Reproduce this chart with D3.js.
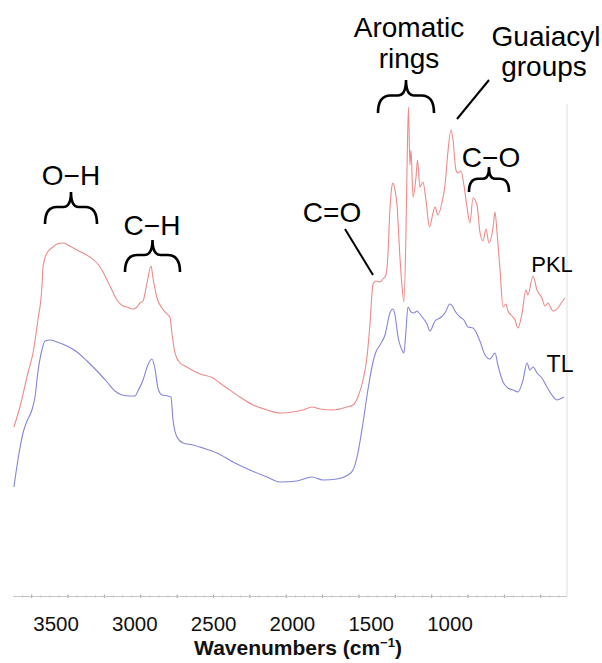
<!DOCTYPE html>
<html><head><meta charset="utf-8">
<script src="https://cdn.jsdelivr.net/npm/d3@7"></script>
<style>body{margin:0;background:#fff}svg{display:block}text{font-family:"Liberation Sans",Arial,sans-serif}</style>
</head><body>
<svg id="chart" width="602" height="663"></svg>
<script>
// Wavenumbers (cm-1) and relative intensity (a.u.)
const pklWave = [3795,3762,3718,3690,3663,3641,3635,3613,3580,3558,3525,3498,3459,3415,3377,3338,3311,3283,3256,3228,3195,3173,3140,3118,3102,3085,3063,3041,3030,3008,2981,2953,2937,2926,2909,2882,2854,2816,2772,2700,2662,2623,2552,2480,2403,2332,2260,2205,2156,2112,2040,1963,1930,1903,1875,1853,1837,1820,1804,1782,1765,1749,1738,1727,1716,1710,1699,1688,1672,1661,1650,1639,1633,1625,1617,1611,1600,1584,1575,1562,1545,1529,1509,1490,1479,1463,1441,1424,1408,1391,1380,1364,1353,1336,1320,1303,1287,1270,1248,1232,1215,1199,1182,1160,1149,1138,1122,1105,1089,1078,1061,1039,1023,1001,979,968,940,918,891,874,858,830,803,781,764];
const pklValue = [33.8,37.8,44.6,48.6,55.2,61.8,65.8,68.6,69.8,70.4,70.6,70.2,69.4,68.6,67.8,66.6,65.2,63.2,61.2,59.2,58.0,57.8,57.4,57.8,58.6,59.0,62.6,66.0,63.6,59.6,57.6,56.4,55.8,52.6,48.6,46.6,46.0,45.2,44.4,43.6,42.6,41.6,39.8,38.2,37.2,36.6,36.8,37.2,37.8,37.4,37.2,37.8,38.2,39.8,43.2,47.8,54.2,62.4,63.0,62.8,63.4,64.2,68.2,77.2,82.0,82.6,81.2,78.2,67.8,62.2,58.8,72.2,85.2,97.8,86.2,89.2,79.8,83.6,87.2,81.8,82.8,79.2,73.8,76.6,77.8,76.2,78.6,82.2,88.8,93.2,91.2,85.2,84.6,85.0,82.2,77.8,74.6,79.6,78.2,72.8,71.0,73.4,70.6,73.6,76.8,72.8,65.6,57.8,58.4,57.0,56.2,55.2,53.6,56.4,61.2,60.2,64.0,61.2,59.6,58.0,58.6,57.0,57.6,58.8,59.6];

const tlWave = [3795,3773,3745,3723,3696,3679,3663,3641,3624,3597,3558,3503,3448,3393,3338,3283,3239,3201,3157,3129,3113,3085,3058,3036,3019,3003,2981,2948,2931,2920,2898,2865,2810,2755,2678,2590,2497,2403,2332,2238,2156,2095,2018,1958,1930,1903,1875,1848,1820,1804,1782,1754,1727,1710,1699,1683,1661,1650,1639,1628,1611,1595,1578,1567,1545,1523,1507,1479,1452,1424,1397,1380,1369,1342,1320,1298,1270,1232,1204,1177,1149,1133,1105,1078,1050,1023,995,973,957,940,918,891,863,836,808,792,770];
const tlValue = [21.8,27.2,32.6,35.0,37.2,39.8,44.8,49.2,51.0,51.2,50.8,50.0,48.8,47.0,45.0,42.8,41.0,40.2,40.0,40.0,41.0,43.2,46.2,47.4,45.4,41.6,40.2,40.0,39.8,35.2,31.8,30.6,30.2,29.6,28.6,26.8,25.2,23.8,22.8,23.0,23.8,23.2,23.4,24.2,25.2,28.6,34.6,41.2,46.8,48.8,50.2,52.2,56.6,57.4,56.2,52.0,49.2,48.6,52.8,57.8,56.8,56.6,57.0,56.6,55.6,54.4,53.0,55.0,55.6,56.6,58.4,57.8,57.0,55.8,55.2,53.8,53.6,51.0,48.2,47.4,48.6,46.2,42.8,41.6,41.2,40.8,43.2,46.6,45.2,45.8,44.6,43.6,41.8,40.2,39.2,39.4,39.8];

const tickLabels = [3500, 3000, 2500, 2000, 1500, 1000];
const seriesNames = ["PKL", "TL"];
const seriesColors = ["#ee8a8a", "#8484dc"];

const svg = d3.select("#chart");
const axisY = 596;
const x = d3.scaleLinear().domain([3800, 764]).range([13, 565]);
// the printed tick labels sit on their own (slightly shifted) scale in the original figure
const xLabel = d3.scaleLinear().domain([3770, 267]).range([13, 565]);
const y = d3.scaleLinear().domain([0, 100]).range([axisY, 96]);

// right frame edge
svg.append("line").attr("x1", 567).attr("x2", 567).attr("y1", 104).attr("y2", axisY)
  .attr("stroke", "#dedede").attr("stroke-width", 1);

// axis: minor ticks every 50, major every 200
const minor = d3.range(3750, 764, -50);
const major = d3.range(3700, 764, -200);
const gMinor = svg.append("g").attr("transform", `translate(0,${axisY - 0.5})`)
  .call(d3.axisBottom(x).tickValues(minor).tickSize(2).tickSizeOuter(0).tickFormat(""));
gMinor.select(".domain").remove();
gMinor.selectAll("line").attr("stroke", "#b4b4b4");
const gMajor = svg.append("g").attr("transform", `translate(0,${axisY - 1.5})`)
  .call(d3.axisBottom(x).tickValues(major).tickSize(3.5).tickSizeOuter(0).tickFormat(""));
gMajor.select(".domain").remove();
gMajor.selectAll("line").attr("stroke", "#a4a4a4");
svg.append("line").attr("x1", 13).attr("x2", 567).attr("y1", axisY + 0.5).attr("y2", axisY + 0.5)
  .attr("stroke", "#c6c6c6").attr("stroke-width", 1);

const gLab = svg.append("g").attr("transform", `translate(0,${axisY})`)
  .call(d3.axisBottom(xLabel).tickValues(tickLabels).tickSize(0).tickPadding(20.5).tickFormat(d3.format("d")));
gLab.select(".domain").remove();
gLab.selectAll("text").attr("font-size", 20.5).attr("fill", "#111")
  .attr("font-family", '"Liberation Sans", Arial, sans-serif');

svg.append("text").attr("x", 298).attr("y", 655).attr("text-anchor", "middle")
  .attr("font-size", 21).attr("font-weight", "bold").attr("fill", "#111")
  .html('Wavenumbers (cm<tspan dy="-8" font-size="13">−1</tspan><tspan dy="8">)</tspan>');

// spectra
const line = d3.line().x(d => x(d[0])).y(d => y(d[1])).curve(d3.curveMonotoneX);
const series = [d3.zip(pklWave, pklValue), d3.zip(tlWave, tlValue)];
svg.selectAll("path.spec").data(series).join("path").attr("class", "spec")
  .attr("d", line).attr("fill", "none")
  .attr("stroke", (d, i) => seriesColors[i]).attr("stroke-width", 1.1);

// annotations
function brace(x0, x1, yTip, yEnd) {
  const xc = (x0 + x1) / 2, half = (x1 - x0) / 2, yMid = yTip + (yEnd - yTip) * 0.47;
  const p = d3.path();
  p.moveTo(x0, yEnd);
  p.quadraticCurveTo(x0, yMid, x0 + half * 0.45, yMid);
  p.lineTo(xc - half * 0.3, yMid);
  p.quadraticCurveTo(xc, yMid, xc, yTip);
  p.quadraticCurveTo(xc, yMid, xc + half * 0.3, yMid);
  p.lineTo(x1 - half * 0.45, yMid);
  p.quadraticCurveTo(x1, yMid, x1, yEnd);
  return p.toString();
}
const ann = svg.append("g").attr("fill", "#000");
[[45, 97, 192, 224], [125, 180, 240, 272], [378, 434, 80, 113], [469, 509, 167, 192]]
  .forEach(b => ann.append("path").attr("d", brace(...b)).attr("fill", "none")
    .attr("stroke", "#000").attr("stroke-width", 2.6));
[[345, 229, 373, 275], [489, 80, 457, 119]].forEach(l =>
  ann.append("line").attr("x1", l[0]).attr("y1", l[1]).attr("x2", l[2]).attr("y2", l[3])
    .attr("stroke", "#000").attr("stroke-width", 2));
const labels = [
  ["O−H", 71, 185, 28], ["C−H", 152, 235, 28], ["C=O", 332, 222, 28],
  ["Aromatic", 409, 37, 28], ["rings", 409, 68, 28],
  ["Guaiacyl", 546, 46, 28], ["groups", 544, 76, 28], ["C−O", 491, 167, 28],
  [seriesNames[0], 552, 272, 22], [seriesNames[1], 560, 372, 23]
];
labels.forEach(t => ann.append("text").attr("x", t[1]).attr("y", t[2])
  .attr("text-anchor", "middle").attr("font-size", t[3]).attr("fill", "#000").text(t[0]));
</script>
</body></html>
